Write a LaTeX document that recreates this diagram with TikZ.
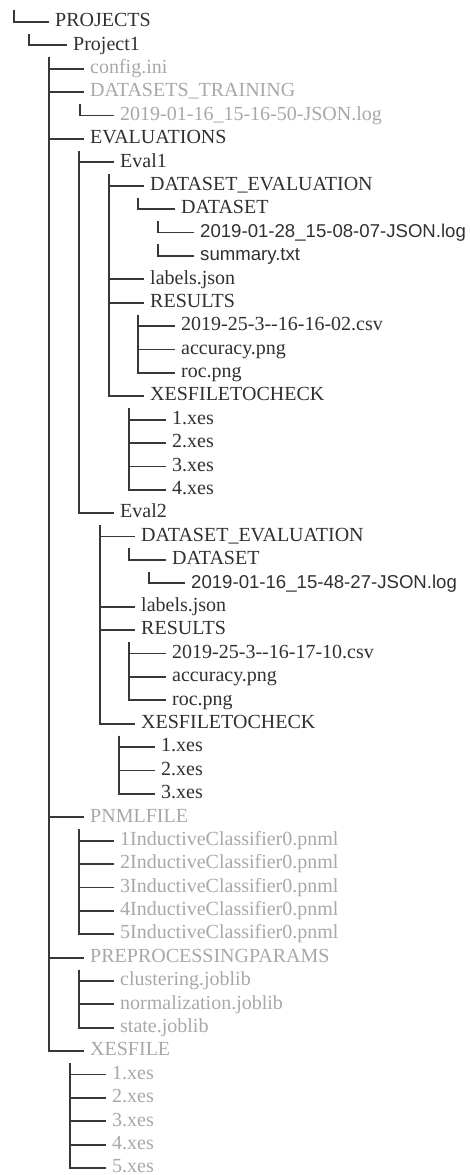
\documentclass[tikz,border=0pt]{standalone}
\usepackage{fontspec}
\setmainfont{Liberation Serif}
\setsansfont{Liberation Sans}

\definecolor{dirtext}{HTML}{303030}
\definecolor{dimtext}{HTML}{A8A8A8}
\definecolor{branchline}{HTML}{383838}

\tikzset{
    entry/.style={anchor=west, inner xsep=6pt, inner ysep=0pt,
        text height=14pt, text depth=4.5pt, minimum height=23.4pt,
        font=\fontsize{20}{24}\selectfont, text=dirtext},
    dim/.style={entry, text=dimtext},
    sansentry/.style={entry, font=\sffamily\fontsize{18.6}{24}\selectfont},
    branch/.style={draw=branchline, line width=1.8pt}
}

\begin{document}
\begin{tikzpicture}[x=1pt, y=-1pt]
    \useasboundingbox (0,0) rectangle (469,1175);
    \def\rs{23.39}

    % top level
    \node[entry] (projects) at (49,{22+\rs*0}) {PROJECTS};
    \node[entry] (project1) at (67,{22+\rs*1}) {Project1};
    \node[dim]   (config)   at (84,{22+\rs*2}) {config.ini};
    \node[dim]   (dstrain)  at (84,{22+\rs*3}) {DATASETS\_TRAINING};
    \node[dim]   (dstrainlog) at (114,{22+\rs*4}) {2019-01-16\_15-16-50-JSON.log};
    \node[entry] (evals)    at (84,{22+\rs*5}) {EVALUATIONS};

    % Eval1
    \node[entry] (evalA)    at (114,{22+\rs*6}) {Eval1};
    \node[entry] (dsevalA)  at (144,{22+\rs*7}) {DATASET\_EVALUATION};
    \node[entry] (datasetA) at (175,{22+\rs*8}) {DATASET};
    \node[sansentry] (logA) at (194,{22+\rs*9}) {2019-01-28\_15-08-07-JSON.log};
    \node[sansentry] (summaryA) at (194,{22+\rs*10}) {summary.txt};
    \node[entry] (labelsA)  at (144,{22+\rs*11}) {labels.json};
    \node[entry] (resultsA) at (144,{22+\rs*12}) {RESULTS};
    \node[entry] (csvA)     at (175,{22+\rs*13}) {2019-25-3-\kern0pt-16-16-02.csv};
    \node[entry] (accA)     at (175,{22+\rs*14}) {accuracy.png};
    \node[entry] (rocA)     at (175,{22+\rs*15}) {roc.png};
    \node[entry] (xcheckA)  at (144,{22+\rs*16}) {XESFILETOCHECK};
    \foreach \i in {1,...,4}
        \node[entry] (xcA\i) at (166,{22+\rs*(16+\i)}) {\i.xes};

    % Eval2
    \node[entry] (evalB)    at (114,{22+\rs*21}) {Eval2};
    \node[entry] (dsevalB)  at (135,{22+\rs*22}) {DATASET\_EVALUATION};
    \node[entry] (datasetB) at (166,{22+\rs*23}) {DATASET};
    \node[sansentry] (logB) at (185,{22+\rs*24}) {2019-01-16\_15-48-27-JSON.log};
    \node[entry] (labelsB)  at (135,{22+\rs*25}) {labels.json};
    \node[entry] (resultsB) at (135,{22+\rs*26}) {RESULTS};
    \node[entry] (csvB)     at (166,{22+\rs*27}) {2019-25-3-\kern0pt-16-17-10.csv};
    \node[entry] (accB)     at (166,{22+\rs*28}) {accuracy.png};
    \node[entry] (rocB)     at (166,{22+\rs*29}) {roc.png};
    \node[entry] (xcheckB)  at (135,{22+\rs*30}) {XESFILETOCHECK};
    \foreach \i in {1,...,3}
        \node[entry] (xcB\i) at (155,{22+\rs*(30+\i)}) {\i.xes};

    % remaining folders
    \node[dim] (pnml) at (84,{22+\rs*34}) {PNMLFILE};
    \foreach \i in {1,...,5}
        \node[dim] (pn\i) at (114,{22+\rs*(34+\i)}) {\i InductiveClassifier0.pnml};
    \node[dim] (prep)  at (84,{22+\rs*40}) {PREPROCESSINGPARAMS};
    \node[dim] (clust) at (114,{22+\rs*41}) {clustering.joblib};
    \node[dim] (norm)  at (114,{22+\rs*42}) {normalization.joblib};
    \node[dim] (state) at (114,{22+\rs*43}) {state.joblib};
    \node[dim] (xesfile) at (84,{22+\rs*44}) {XESFILE};
    \foreach \i in {1,...,5}
        \node[dim] (xf\i) at (106,{22+\rs*(44+\i)}) {\i.xes};

    % branches
    \coordinate (root) at (14,10);
    \draw[branch] (root) |- (projects.west);
    \foreach \p/\c/\vx in {
        projects/project1/29,
        project1/config/49, project1/dstrain/49, project1/evals/49,
        project1/pnml/49, project1/prep/49, project1/xesfile/49,
        dstrain/dstrainlog/80,
        evals/evalA/79, evals/evalB/79,
        evalA/dsevalA/109, evalA/labelsA/109, evalA/resultsA/109, evalA/xcheckA/109,
        dsevalA/datasetA/138,
        datasetA/logA/158, logA/summaryA/158,
        resultsA/csvA/138, resultsA/accA/138, resultsA/rocA/138,
        xcheckA/xcA1/129, xcheckA/xcA2/129, xcheckA/xcA3/129, xcheckA/xcA4/129,
        evalB/dsevalB/100, evalB/labelsB/100, evalB/resultsB/100, evalB/xcheckB/100,
        dsevalB/datasetB/129,
        datasetB/logB/149,
        resultsB/csvB/129, resultsB/accB/129, resultsB/rocB/129,
        xcheckB/xcB1/119, xcheckB/xcB2/119, xcheckB/xcB3/119,
        pnml/pn1/79, pnml/pn2/79, pnml/pn3/79, pnml/pn4/79, pnml/pn5/79,
        prep/clust/79, prep/norm/79, prep/state/79,
        xesfile/xf1/70, xesfile/xf2/70, xesfile/xf3/70, xesfile/xf4/70, xesfile/xf5/70}
        \draw[branch] (\vx,0 |- \p.south) |- (\c.west);
\end{tikzpicture}
\end{document}
